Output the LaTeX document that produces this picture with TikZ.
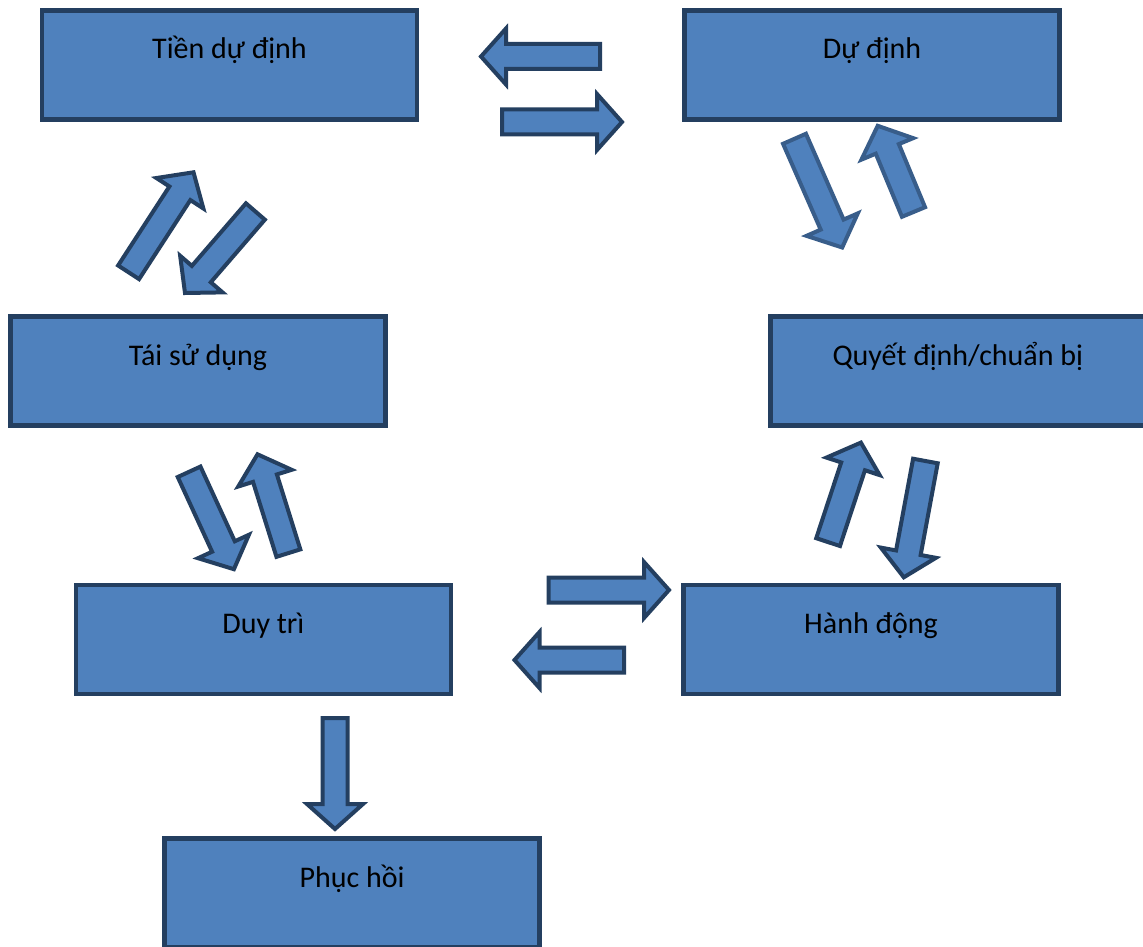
\documentclass[tikz,border=0pt]{standalone}
\usepackage{fontspec}
\setmainfont{Carlito}
\usetikzlibrary{calc}
\definecolor{boxfill}{HTML}{4F81BD}
\definecolor{boxline}{HTML}{243F60}
\definecolor{lightline}{HTML}{385D8A}
\tikzset{
  stage/.style={draw=boxline, fill=boxfill, line width=4.5pt, line join=miter,
    minimum width=375pt, inner xsep=0pt, inner ysep=0pt,
    text height=48.5pt, text depth=60.5pt,
    font=\fontsize{30}{36}\selectfont, text=black},
  barrow/.style={draw=boxline, fill=boxfill, line width=4pt, line join=miter, miter limit=10}
}
\newcommand\blockarrow[3][]{%
  \draw[barrow,#1]
    ($(#2)!12.5pt!90:(#3)$) --
    ($(#3)!25pt!(#2)!12.5pt!90:(#3)$) --
    ($(#3)!25pt!(#2)!28pt!90:(#3)$) --
    (#3) --
    ($(#3)!25pt!(#2)!28pt!-90:(#3)$) --
    ($(#3)!25pt!(#2)!12.5pt!-90:(#3)$) --
    ($(#2)!12.5pt!-90:(#3)$) -- cycle;}
\begin{document}
\begin{tikzpicture}[x=1pt,y=-1pt]
\useasboundingbox (0,0) rectangle (1143,947);
\fill[white] (0,0) rectangle (1143,947);
% stages
\node[stage] (tien)    at (229.5,65)   {Tiền dự định};
\node[stage] (duDinh)  at (872,65)     {Dự định};
\node[stage] (taiSu)   at (198,371)    {Tái sử dụng};
\node[stage] (quyet)   at (957.8,371)  {Quyết định/chuẩn bị};
\node[stage] (duyTri)  at (263.3,639.5){Duy trì};
\node[stage] (hanh)    at (871,639.5)  {Hành động};
\node[stage] (phuc)    at (352,893)    {Phục hồi};
% arrow end points
\coordinate (a1s) at (600,56.5);   \coordinate (a1e) at (481,56.5);
\coordinate (a2s) at (502,122);    \coordinate (a2e) at (622,122);
\coordinate (a3s) at (794.5,138.8);\coordinate (a3e) at (842.2,247.5);
\coordinate (a4s) at (913.5,212);  \coordinate (a4e) at (877.7,125.8);
\coordinate (a5s) at (128.6,272.3);\coordinate (a5e) at (193.5,172.3);
\coordinate (a6s) at (255.4,211.5);\coordinate (a6e) at (185,293);
\coordinate (a7s) at (189.1,471.8);\coordinate (a7e) at (233.9,569.2);
\coordinate (a8s) at (288.4,553.1);\coordinate (a8e) at (257.5,454.3);
\coordinate (a9s) at (828.1,542.1);\coordinate (a9e) at (860.9,442.6);
\coordinate (a10s) at (925.4,461); \coordinate (a10e) at (903.8,577.3);
\coordinate (a11s) at (548.7,590); \coordinate (a11e) at (669,590);
\coordinate (a12s) at (624,660);   \coordinate (a12e) at (514.5,660);
\coordinate (a13s) at (335,718);   \coordinate (a13e) at (335,829);
% block arrows
\blockarrow{a1s}{a1e}
\blockarrow{a2s}{a2e}
\blockarrow[draw=lightline]{a3s}{a3e}
\blockarrow[draw=lightline]{a4s}{a4e}
\blockarrow{a5s}{a5e}
\blockarrow{a6s}{a6e}
\blockarrow{a7s}{a7e}
\blockarrow{a8s}{a8e}
\blockarrow{a9s}{a9e}
\blockarrow{a10s}{a10e}
\blockarrow{a11s}{a11e}
\blockarrow{a12s}{a12e}
\blockarrow{a13s}{a13e}
\end{tikzpicture}
\end{document}
